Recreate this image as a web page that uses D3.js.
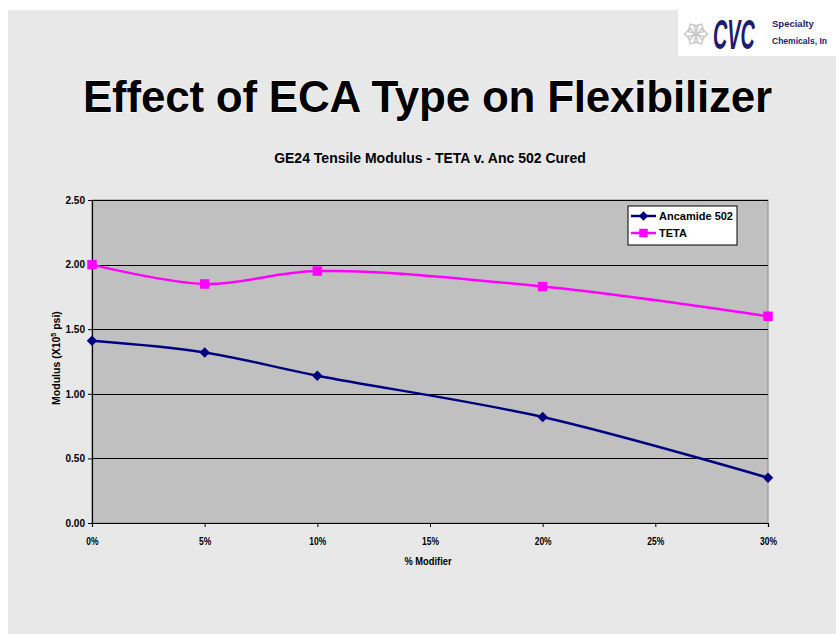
<!DOCTYPE html>
<html>
<head>
<meta charset="utf-8">
<script src="https://d3js.org/d3.v7.min.js"></script>
<style>
  body { margin: 0; background: #fff; }
  text { font-family: "Liberation Sans", Arial, sans-serif; }
</style>
</head>
<body>
<script>
// chart values
const modifier = [0, 5, 10, 20, 30];
const ancamide = [1.41, 1.32, 1.14, 0.82, 0.35];
const teta = [2.00, 1.85, 1.95, 1.83, 1.60];
const xTicks = [0, 5, 10, 15, 20, 25, 30];
const yTicks = [0, 0.5, 1.0, 1.5, 2.0, 2.5];

const W = 836, H = 634;
const svg = d3.select('body').append('svg')
    .attr('width', W).attr('height', H);

// slide background
svg.append('rect').attr('x', 8).attr('y', 10).attr('width', W - 8).attr('height', H - 10)
    .attr('fill', '#e8e8e8');

// logo box
const logo = svg.append('g');
logo.append('rect').attr('x', 678).attr('y', 0).attr('width', 158).attr('height', 56).attr('fill', '#fff');
logo.append('g').attr('transform', 'translate(696,34)')
  .selectAll('path').data([0, 60, 120, 180, 240, 300]).join('path')
    .attr('d', d3.symbol(d3.symbolSquare, 60))
    .attr('transform', d => `rotate(${d}) translate(6,0) rotate(45)`)
    .attr('fill', 'none').attr('stroke', '#c8c8c8').attr('stroke-width', 1.5);
logo.append('text').attr('transform', 'translate(713,49) scale(0.47,1)')
    .style('font-size', '42px').style('font-weight', 'bold').style('font-style', 'italic')
    .attr('fill', '#1c1c70')
    .text('CVC');
logo.append('text').attr('x', 772).attr('y', 27).style('font-size', '9.5px').style('font-weight', 'bold')
    .attr('fill', '#1c1c70').text('Specialty');
logo.append('text').attr('transform', 'translate(772,44) scale(0.9,1)').style('font-size', '9.5px').style('font-weight', 'bold')
    .attr('fill', '#1c1c70')
    .text('Chemicals, In');

svg.append('text').attr('x', 83).attr('y', 112)
    .style('font-size', '44px').style('font-weight', 'bold')
    .attr('textLength', 689).attr('lengthAdjust', 'spacing')
    .attr('stroke', '#fff').attr('stroke-width', 1.2).attr('paint-order', 'stroke')
    .text('Effect of ECA Type on Flexibilizer');

svg.append('text').attr('x', 430).attr('y', 163).attr('text-anchor', 'middle')
    .style('font-size', '14px').style('font-weight', 'bold')
    .text('GE24 Tensile Modulus - TETA v. Anc 502 Cured');

const m = { left: 92, right: 768, top: 200, bottom: 523 };
const x = d3.scaleLinear().domain([0, 30]).range([m.left, m.right]);
const y = d3.scaleLinear().domain([0, 2.5]).range([m.bottom, m.top]);

svg.append('rect').attr('x', m.left).attr('y', m.top)
    .attr('width', m.right - m.left).attr('height', m.bottom - m.top)
    .attr('fill', '#c0c0c0').attr('stroke', '#8c8c8c').attr('stroke-width', 1);

// gridlines
svg.append('g').selectAll('line').data(yTicks.slice(1)).join('line')
    .attr('x1', m.left).attr('x2', m.right)
    .attr('y1', d => Math.round(y(d)) + 0.5).attr('y2', d => Math.round(y(d)) + 0.5)
    .attr('stroke', '#000');

const yAxis = svg.append('g').attr('transform', `translate(${m.left},0)`)
    .call(d3.axisLeft(y).tickValues(yTicks).tickFormat(d3.format('.2f')).tickSize(4).tickPadding(3));
const xAxis = svg.append('g').attr('transform', `translate(0,${m.bottom})`)
    .call(d3.axisBottom(x).tickValues(xTicks).tickFormat(d => d + '%').tickSize(4).tickPadding(11));
[yAxis, xAxis].forEach(a => {
  a.select('.domain').attr('stroke', '#000').attr('stroke-width', 1.2);
  a.selectAll('.tick line').attr('stroke', '#000');
  a.selectAll('text').style('font-size', '10px').style('font-weight', 'bold')
    .style('font-family', '"Liberation Sans", Arial, sans-serif').attr('fill', '#000');
});
xAxis.selectAll('.tick text').attr('transform', 'scale(0.85,1)');

svg.append('text').attr('x', 0).attr('y', 0).attr('text-anchor', 'middle')
    .style('font-size', '11px').style('font-weight', 'bold')
    .attr('transform', 'translate(428,565) scale(0.85,1)')
    .text('% Modifier');

svg.append('text').attr('transform', 'translate(60,358) rotate(-90)').attr('text-anchor', 'middle')
    .style('font-size', '10.5px').style('font-weight', 'bold')
    .html('Modulus (X10<tspan dy="-4" font-size="7px">5</tspan><tspan dy="4"> psi)</tspan>');

const line = d3.line().x((d, i) => x(modifier[i])).y(d => y(d)).curve(d3.curveCatmullRom.alpha(0.5));

const series = [
  { name: 'Ancamide 502', values: ancamide, color: '#000080', rot: 45, size: 55 },
  { name: 'TETA', values: teta, color: '#ff00ff', rot: 0, size: 90 }
];

series.forEach(s => {
  svg.append('path').attr('d', line(s.values)).attr('fill', 'none')
      .attr('stroke', s.color).attr('stroke-width', 2.5);
  svg.append('g').selectAll('path').data(s.values).join('path')
      .attr('transform', (d, i) => `translate(${x(modifier[i])},${y(d)}) rotate(${s.rot})`)
      .attr('d', d3.symbol(d3.symbolSquare, s.size)).attr('fill', s.color);
});

// legend
const lg = svg.append('g').attr('transform', 'translate(628,206)');
lg.append('rect').attr('width', 109).attr('height', 39).attr('fill', '#fff').attr('stroke', '#000');
series.forEach((s, i) => {
  const g = lg.append('g').attr('transform', `translate(0,${10 + i * 17})`);
  g.append('line').attr('x1', 3).attr('x2', 28).attr('stroke', s.color).attr('stroke-width', 2.5);
  g.append('path').attr('transform', `translate(15.5,0) rotate(${s.rot})`)
      .attr('d', d3.symbol(d3.symbolSquare, s.size * 0.8)).attr('fill', s.color);
  g.append('text').attr('x', 31).attr('y', 4).style('font-size', '11px').style('font-weight', 'bold')
      .text(s.name);
});
</script>
</body>
</html>
